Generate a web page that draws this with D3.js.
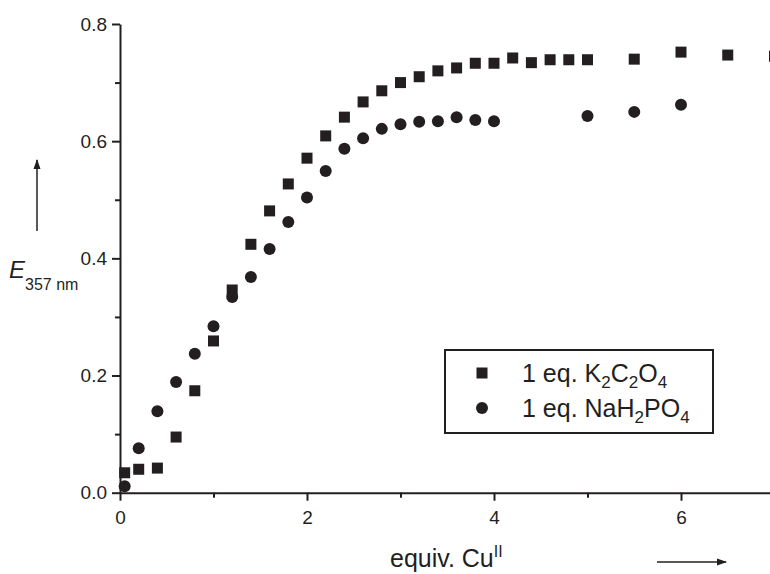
<!DOCTYPE html>
<html>
<head>
<meta charset="utf-8">
<script src="https://cdn.jsdelivr.net/npm/d3@7"></script>
<style>
  body { margin: 0; background: #fff; }
  svg { display: block; font-family: "Liberation Sans", Arial, sans-serif; }
</style>
</head>
<body>
<svg id="chart"></svg>
<script>
// K2C2O4 series (squares)
const oxalateX = [0.05, 0.2, 0.4, 0.6, 0.8, 1.0, 1.2, 1.4, 1.6, 1.8, 2.0, 2.2, 2.4, 2.6, 2.8, 3.0, 3.2, 3.4, 3.6, 3.8, 4.0, 4.2, 4.4, 4.6, 4.8, 5.0, 5.5, 6.0, 6.5, 7.0];
const oxalateY = [0.034, 0.040, 0.042, 0.095, 0.174, 0.259, 0.346, 0.424, 0.481, 0.527, 0.571, 0.609, 0.641, 0.667, 0.686, 0.700, 0.710, 0.720, 0.725, 0.733, 0.733, 0.742, 0.734, 0.739, 0.739, 0.739, 0.740, 0.752, 0.747, 0.745];
// NaH2PO4 series (circles)
const phosphateX = [0.05, 0.2, 0.4, 0.6, 0.8, 1.0, 1.2, 1.4, 1.6, 1.8, 2.0, 2.2, 2.4, 2.6, 2.8, 3.0, 3.2, 3.4, 3.6, 3.8, 4.0, 5.0, 5.5, 6.0];
const phosphateY = [0.011, 0.076, 0.139, 0.189, 0.237, 0.284, 0.334, 0.368, 0.416, 0.462, 0.504, 0.549, 0.587, 0.605, 0.621, 0.629, 0.633, 0.634, 0.641, 0.636, 0.634, 0.643, 0.650, 0.662];

const xMajor = [0, 2, 4, 6];
const xMinor = [1, 3, 5];
const yMajor = [0, 0.2, 0.4, 0.6, 0.8];
const yMinor = [0.1, 0.3, 0.5, 0.7];

const width = 770, height = 574;
const ink = "#231f20";

const svg = d3.select("#chart")
  .attr("width", width)
  .attr("height", height);

const x = d3.scaleLinear().domain([0, 7]).range([120, 774.5]);
const y = d3.scaleLinear().domain([0, 0.8]).range([492.7, 24]);

// minor ticks first
svg.append("g")
  .attr("transform", `translate(0,${y(0)})`)
  .call(d3.axisBottom(x).tickValues(xMinor).tickSize(5).tickFormat(""))
  .call(g => g.select(".domain").remove())
  .call(g => g.selectAll(".tick text").remove());
svg.append("g")
  .attr("transform", `translate(${x(0)},0)`)
  .call(d3.axisLeft(y).tickValues(yMinor).tickSize(5).tickFormat(""))
  .call(g => g.select(".domain").remove())
  .call(g => g.selectAll(".tick text").remove());

svg.append("g")
  .attr("transform", `translate(0,${y(0)})`)
  .call(d3.axisBottom(x).tickValues(xMajor).tickSize(8).tickSizeOuter(0).tickPadding(10).tickFormat(d3.format("d")));
svg.append("g")
  .attr("transform", `translate(${x(0)},0)`)
  .call(d3.axisLeft(y).tickValues(yMajor).tickSize(8).tickSizeOuter(0).tickPadding(5).tickFormat(d3.format(".1f")));

svg.selectAll(".tick line").attr("stroke", ink).attr("stroke-width", 2);
svg.selectAll(".domain").attr("stroke", ink).attr("stroke-width", 2);
svg.selectAll(".tick text").attr("fill", ink).attr("font-size", 19).attr("font-family", "Liberation Sans, Arial, sans-serif");

// data marks
const sq = 11;
svg.append("g").selectAll("rect")
  .data(d3.zip(oxalateX, oxalateY))
  .join("rect")
    .attr("x", d => x(d[0]) - sq / 2)
    .attr("y", d => y(d[1]) - sq / 2)
    .attr("width", sq)
    .attr("height", sq)
    .attr("fill", ink);

svg.append("g").selectAll("circle")
  .data(d3.zip(phosphateX, phosphateY))
  .join("circle")
    .attr("cx", d => x(d[0]))
    .attr("cy", d => y(d[1]))
    .attr("r", 6)
    .attr("fill", ink);

// legend
const legend = svg.append("g");
legend.append("rect")
  .attr("x", 445).attr("y", 350)
  .attr("width", 268).attr("height", 83)
  .attr("fill", "white").attr("stroke", ink).attr("stroke-width", 2);
legend.append("rect")
  .attr("x", 482 - 5.5).attr("y", 373 - 5.5)
  .attr("width", sq).attr("height", sq).attr("fill", ink);
legend.append("circle")
  .attr("cx", 482).attr("cy", 408).attr("r", 6).attr("fill", ink);

// formula text: plain parts and subscript parts alternate
const addChem = (sel, parts, xPos, yPos, size, subSize) => {
  const t = sel.append("text").attr("x", xPos).attr("y", yPos)
    .attr("font-size", size).attr("fill", ink);
  let down = false;
  parts.forEach(p => {
    if (p.sub) {
      t.append("tspan").attr("font-size", subSize).attr("dy", 6).text(p.sub);
      down = true;
    } else {
      t.append("tspan").attr("dy", down ? -6 : 0).text(p.t);
      down = false;
    }
  });
  return t;
};
addChem(legend, [{t: "1 eq. K"}, {sub: "2"}, {t: "C"}, {sub: "2"}, {t: "O"}, {sub: "4"}], 522, 382, 25, 17);
addChem(legend, [{t: "1 eq. NaH"}, {sub: "2"}, {t: "PO"}, {sub: "4"}], 522, 417, 25, 17);

// x axis title
const xt = svg.append("text").attr("x", 390).attr("y", 567).attr("font-size", 25).attr("fill", ink);
xt.append("tspan").text("equiv. Cu");
xt.append("tspan").attr("font-size", 16).attr("dy", -10).text("II");

// y axis title
const yt = svg.append("text").attr("x", 9).attr("y", 278).attr("fill", ink);
yt.append("tspan").attr("font-size", 24).attr("font-style", "italic").text("E");
yt.append("tspan").attr("font-size", 16).attr("dy", 12).text("357 nm");

// arrows
const defs = svg.append("defs");
defs.append("marker")
  .attr("id", "head")
  .attr("viewBox", "0 0 10 10")
  .attr("refX", 9).attr("refY", 5)
  .attr("markerWidth", 10).attr("markerHeight", 10)
  .attr("markerUnits", "userSpaceOnUse")
  .attr("orient", "auto")
  .append("path").attr("d", "M0,1.5 L10,5 L0,8.5 Z").attr("fill", ink);

svg.append("line")
  .attr("x1", 37).attr("y1", 231).attr("x2", 37).attr("y2", 160)
  .attr("stroke", ink).attr("stroke-width", 1.5).attr("marker-end", "url(#head)");
svg.append("line")
  .attr("x1", 657).attr("y1", 562).attr("x2", 726).attr("y2", 562)
  .attr("stroke", ink).attr("stroke-width", 1.5).attr("marker-end", "url(#head)");
</script>
</body>
</html>
